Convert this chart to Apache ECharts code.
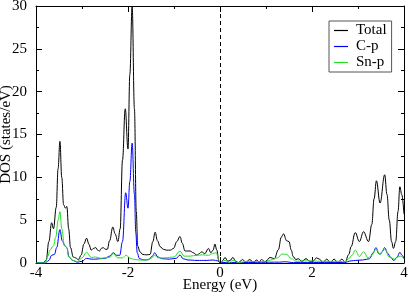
<!DOCTYPE html>
<html>
<head>
<meta charset="utf-8">
<script src="https://cdn.jsdelivr.net/npm/echarts@6/dist/echarts.min.js"></script>
<style>html,body{margin:0;padding:0;background:#fff;}#c{width:409px;height:296px;}</style>
</head>
<body>
<div id="c"></div>
<script>
var seriesNames = ['Total', 'C-p', 'Sn-p'];
var xTicks = [-4, -2, 0, 2, 4];
var yTicks = [0, 5, 10, 15, 20, 25, 30];

var total = [[-4,0],[-3.85,0],[-3.78,0.3],[-3.72,2.5],[-3.66,4.7],[-3.62,4.0],[-3.56,6.5],[-3.52,11],[-3.48,14.2],[-3.44,10],[-3.40,6.8],[-3.36,6.4],[-3.33,6.6],[-3.29,4],[-3.25,1.8],[-3.19,0.7],[-3.14,0.6],[-3.08,0.4],[-3.02,0.9],[-2.96,2.2],[-2.9,2.9],[-2.85,2.2],[-2.8,1.5],[-2.75,1.7],[-2.7,1.8],[-2.66,1.5],[-2.62,1.4],[-2.58,1.7],[-2.54,1.8],[-2.49,1.6],[-2.45,1.6],[-2.40,2.6],[-2.33,4.2],[-2.28,3.4],[-2.22,2.5],[-2.17,4],[-2.12,12],[-2.06,18],[-2.00,13.3],[-1.96,22],[-1.91,30],[-1.86,18],[-1.82,6],[-1.79,2.0],[-1.74,1.3],[-1.68,1.0],[-1.6,0.95],[-1.52,1.0],[-1.46,2.5],[-1.41,3.6],[-1.36,2.6],[-1.3,1.9],[-1.23,1.6],[-1.16,1.5],[-1.08,1.5],[-1.01,1.7],[-0.94,2.5],[-0.87,3.1],[-0.82,2.3],[-0.76,1.4],[-0.7,1.4],[-0.65,1.4],[-0.58,1.2],[-0.5,0.9],[-0.45,1.1],[-0.4,1.3],[-0.33,1.1],[-0.25,1.7],[-0.2,1.2],[-0.15,1.5],[-0.11,2.2],[-0.07,1.5],[-0.02,0.1],[0.02,0],[0.06,0.3],[0.11,0.65],[0.17,0.2],[0.22,0.3],[0.28,0.65],[0.34,0.2],[0.4,0.05],[0.49,0.4],[0.56,0.1],[0.65,0.4],[0.72,0.1],[0.8,0.35],[0.85,0.1],[0.9,0.4],[0.98,0.15],[1.09,0.65],[1.18,0.5],[1.27,1.55],[1.33,3.0],[1.38,3.4],[1.45,2.6],[1.5,2.5],[1.55,1.5],[1.59,0.75],[1.65,0.4],[1.7,0.5],[1.78,0.2],[1.87,0.5],[1.95,0.2],[2.02,0.2],[2.1,0.6],[2.16,0.45],[2.24,0.05],[2.32,0.45],[2.4,0.05],[2.48,0.45],[2.56,0.05],[2.65,0.45],[2.72,0.1],[2.8,1.0],[2.85,1.9],[2.94,3.55],[3.03,2.5],[3.12,3.65],[3.23,2.5],[3.3,4.5],[3.35,7.5],[3.40,9.6],[3.48,7.0],[3.58,10.3],[3.63,8],[3.68,5.0],[3.73,2.5],[3.77,1.7],[3.82,2.5],[3.87,6],[3.91,8.9],[3.95,8.0],[4,5.7]];

var cp = [[-4,0],[-3.8,0],[-3.72,0.3],[-3.66,0.9],[-3.6,1.0],[-3.55,1.8],[-3.48,3.9],[-3.43,2.6],[-3.37,2.0],[-3.33,1.8],[-3.28,0.7],[-3.2,0.3],[-3.1,0.1],[-3.0,0.2],[-2.9,0.55],[-2.8,0.45],[-2.7,0.45],[-2.6,0.5],[-2.5,0.55],[-2.4,0.8],[-2.32,1.2],[-2.25,0.9],[-2.18,0.9],[-2.12,2.5],[-2.05,8.2],[-2.0,6.4],[-1.96,9.5],[-1.91,14.0],[-1.86,8],[-1.83,3.5],[-1.8,1.2],[-1.75,0.5],[-1.65,0.35],[-1.55,0.4],[-1.47,0.8],[-1.42,1.2],[-1.35,0.7],[-1.25,0.5],[-1.1,0.45],[-0.95,0.55],[-0.87,0.93],[-0.8,0.5],[-0.7,0.35],[-0.5,0.3],[-0.3,0.3],[-0.15,0.35],[-0.05,0.25],[0,0.05],[0.5,0.05],[1.3,0.1],[1.4,0.15],[1.6,0.05],[2.7,0.05],[2.85,0.25],[2.95,0.3],[3.1,0.35],[3.25,0.5],[3.33,1.2],[3.39,1.8],[3.45,1.1],[3.48,1.0],[3.52,1.3],[3.58,1.8],[3.65,1.1],[3.7,0.7],[3.78,0.3],[3.85,0.7],[3.91,1.25],[3.96,0.9],[4,0.5]];

var snp = [[-4,0],[-3.8,0],[-3.74,0.8],[-3.7,1.5],[-3.62,2.0],[-3.57,3.0],[-3.52,5.0],[-3.48,6.0],[-3.44,4.0],[-3.38,2.0],[-3.33,1.8],[-3.29,0.7],[-3.2,0.3],[-3.1,0.15],[-3.0,0.6],[-2.9,1.25],[-2.8,0.65],[-2.7,0.7],[-2.6,0.55],[-2.5,0.6],[-2.4,0.65],[-2.32,1.1],[-2.22,0.6],[-2.12,0.6],[-2.04,0.9],[-1.95,0.55],[-1.85,0.4],[-1.75,0.35],[-1.6,0.35],[-1.5,0.55],[-1.42,0.9],[-1.35,0.6],[-1.2,0.6],[-1.0,0.7],[-0.87,1.4],[-0.78,0.8],[-0.65,0.8],[-0.5,0.9],[-0.38,0.95],[-0.25,0.9],[-0.16,1.1],[-0.08,1.2],[-0.03,0.4],[0,0.05],[0.11,0.3],[0.2,0.05],[0.28,0.3],[0.4,0.05],[0.6,0.2],[0.8,0.15],[1.0,0.2],[1.1,0.35],[1.25,0.6],[1.35,1.05],[1.45,1.0],[1.55,0.5],[1.65,0.2],[1.9,0.25],[2.2,0.2],[2.5,0.2],[2.72,0.15],[2.8,0.5],[2.87,0.9],[2.94,1.5],[3.03,0.75],[3.12,1.3],[3.22,0.6],[3.3,0.9],[3.39,1.6],[3.48,1.05],[3.58,1.6],[3.68,0.7],[3.79,0.45],[3.87,0.7],[3.92,0.8],[4,0.5]];

var fermiLevel = 0;

var FONT = 'Liberation Serif';
var FS = 15;
var chart = echarts.init(document.getElementById('c'), null, {renderer: 'canvas'});

function mkAxisCommon(showLabel) {
  return {
    axisLine: {show: true, onZero: false, lineStyle: {color: '#000', width: 1}},
    axisTick: {show: true, inside: true, length: 6, lineStyle: {color: '#000'}},
    minorTick: {show: true, splitNumber: 2, length: 3, lineStyle: {color: '#000'}},
    splitLine: {show: false},
    minorSplitLine: {show: false},
    axisLabel: {show: showLabel, color: '#000', fontFamily: FONT, fontSize: FS}
  };
}

var xBottom = Object.assign(mkAxisCommon(true), {
  type: 'value', position: 'bottom', min: xTicks[0], max: xTicks[xTicks.length-1], interval: 2,
  name: 'Energy (eV)', nameLocation: 'middle', nameGap: 15, nameMoveOverlap: false,
  nameTextStyle: {color: '#000', fontFamily: FONT, fontSize: FS, verticalAlign: 'top'}
});
xBottom.axisLabel.margin = 3;
var xTop = Object.assign(mkAxisCommon(false), {
  type: 'value', position: 'top', min: xTicks[0], max: xTicks[xTicks.length-1], interval: 2
});
var yLeft = Object.assign(mkAxisCommon(true), {
  type: 'value', position: 'left', min: yTicks[0], max: yTicks[yTicks.length-1], interval: 5,
  name: 'DOS (states/eV)', nameLocation: 'middle', nameGap: 22, nameRotate: 90, nameMoveOverlap: false,
  nameTextStyle: {color: '#000', fontFamily: FONT, fontSize: FS}
});
yLeft.axisLabel.margin = 9;
var yRight = Object.assign(mkAxisCommon(false), {
  type: 'value', position: 'right', min: yTicks[0], max: yTicks[yTicks.length-1], interval: 5
});

function mkSeries(name, data, color) {
  return {
    name: name, type: 'line', data: data, xAxisIndex: 0, yAxisIndex: 0,
    showSymbol: false, symbol: 'none', smooth: 0.4, smoothMonotone: 'x',
    lineStyle: {color: color, width: 1}, itemStyle: {color: color},
    clip: true, animation: false
  };
}

var s0 = mkSeries(seriesNames[0], total, '#000000');
s0.markLine = {
  silent: true, symbol: ['none', 'none'], label: {show: false},
  lineStyle: {color: '#000', type: [4, 3], width: 1},
  data: [{xAxis: fermiLevel}]
};

chart.setOption({
  animation: false,
  backgroundColor: '#fff',
  grid: {left: 36, top: 6, right: 5, bottom: 33, containLabel: false, outerBoundsMode: 'none'},
  legend: {
    data: seriesNames, orient: 'vertical', left: 329, top: 21,
    icon: 'rect', itemWidth: 14, itemHeight: 1.2, itemGap: 1,
    padding: [2, 5, 2, 5],
    borderColor: '#555', borderWidth: 1, backgroundColor: '#fff',
    textStyle: {color: '#000', fontFamily: FONT, fontSize: FS, padding: [0, 0, 0, 3]}
  },
  xAxis: [xBottom, xTop],
  yAxis: [yLeft, yRight],
  series: [s0, mkSeries(seriesNames[1], cp, '#0000ff'), mkSeries(seriesNames[2], snp, '#22e022')]
});
</script>
</body>
</html>
